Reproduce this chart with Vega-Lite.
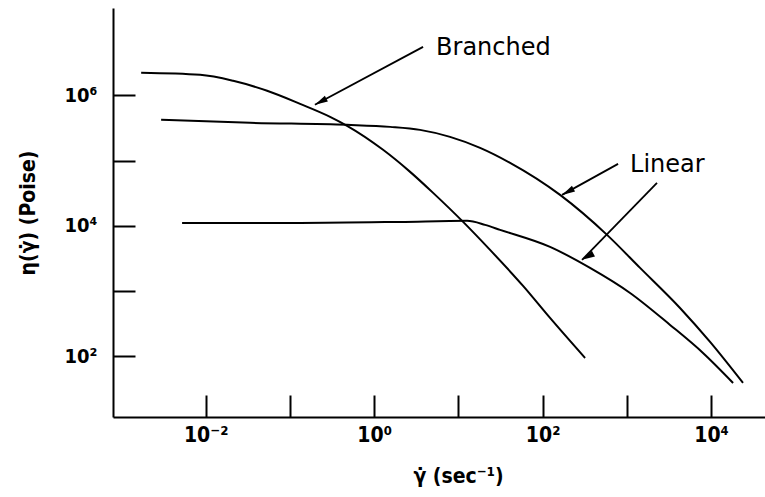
{
  "$schema": "https://vega.github.io/schema/vega-lite/v6.json",
  "width": 652,
  "height": 409,
  "autosize": {"type": "none"},
  "padding": {"left": 113, "top": 8, "right": 0, "bottom": 80},
  "background": "white",
  "config": {"view": {"stroke": null}, "font": "DejaVu Sans Condensed, DejaVu Sans"},
  "datasets": {
    "curves": [
      {"series": "Branched", "x": 0.001714, "y": 2223000},
      {"series": "Branched", "x": 0.00859, "y": 2070000},
      {"series": "Branched", "x": 0.0212, "y": 1675000},
      {"series": "Branched", "x": 0.0536, "y": 1178000},
      {"series": "Branched", "x": 0.1321, "y": 743000},
      {"series": "Branched", "x": 0.2999, "y": 470000},
      {"series": "Branched", "x": 0.4775, "y": 342000},
      {"series": "Branched", "x": 1.276, "y": 146600},
      {"series": "Branched", "x": 2.673, "y": 67300},
      {"series": "Branched", "x": 5.012, "y": 32060},
      {"series": "Branched", "x": 11.38, "y": 11510},
      {"series": "Branched", "x": 23.77, "y": 4285},
      {"series": "Branched", "x": 58.6, "y": 1202},
      {"series": "Branched", "x": 122.5, "y": 388},
      {"series": "Branched", "x": 319.2, "y": 94.4},
      {"series": "Linear high", "x": 0.002958, "y": 422700},
      {"series": "Linear high", "x": 0.03373, "y": 380200},
      {"series": "Linear high", "x": 0.4775, "y": 354000},
      {"series": "Linear high", "x": 1.546, "y": 329600},
      {"series": "Linear high", "x": 3.508, "y": 296500},
      {"series": "Linear high", "x": 7.96, "y": 231700},
      {"series": "Linear high", "x": 18.1, "y": 157100},
      {"series": "Linear high", "x": 41.1, "y": 92500},
      {"series": "Linear high", "x": 161.1, "y": 29850},
      {"series": "Linear high", "x": 582, "y": 7278},
      {"series": "Linear high", "x": 1435, "y": 2270},
      {"series": "Linear high", "x": 4276, "y": 552},
      {"series": "Linear high", "x": 9727, "y": 166.3},
      {"series": "Linear high", "x": 23930, "y": 39.1},
      {"series": "Linear low", "x": 0.005248, "y": 11120},
      {"series": "Linear low", "x": 0.1321, "y": 11120},
      {"series": "Linear low", "x": 2.032, "y": 11510},
      {"series": "Linear low", "x": 12.69, "y": 11940},
      {"series": "Linear low", "x": 20.75, "y": 10360},
      {"series": "Linear low", "x": 31.26, "y": 8690},
      {"series": "Linear low", "x": 122.5, "y": 4764},
      {"series": "Linear low", "x": 365.6, "y": 2270},
      {"series": "Linear low", "x": 1092, "y": 937.6},
      {"series": "Linear low", "x": 3258, "y": 303.4},
      {"series": "Linear low", "x": 8017, "y": 112.7},
      {"series": "Linear low", "x": 18240, "y": 39.1}
    ],
    "arrows": [
      {"arrow": "b", "part": "tail", "x": 3.81, "y": 5560000},
      {"arrow": "b", "part": "tip", "x": 0.198, "y": 718000},
      {"arrow": "l1", "part": "tail", "x": 787, "y": 89300},
      {"arrow": "l1", "part": "tip", "x": 170.2, "y": 29850},
      {"arrow": "l2", "part": "tail", "x": 2280, "y": 45700},
      {"arrow": "l2", "part": "tip", "x": 293.8, "y": 3013}
    ],
    "labels": [
      {"text": "Branched", "x": 5.43, "y": 4200000},
      {"text": "Linear", "x": 1092, "y": 67300}
    ]
  },
  "encoding": {
    "x": {
      "field": "x",
      "type": "quantitative",
      "scale": {"type": "log", "domain": [0.000794, 43650], "nice": false},
      "axis": {
        "values": [0.01, 0.1, 1, 10, 100, 1000, 10000],
        "labelExpr": "datum.value == 0.01 ? '10⁻²' : datum.value == 1 ? '10⁰' : datum.value == 100 ? '10²' : datum.value == 10000 ? '10⁴' : ''",
        "labelOverlap": false,
        "labelFlush": false,
        "grid": false,
        "tickSize": -22,
        "tickWidth": 2,
        "tickColor": "black",
        "domainColor": "black",
        "domainWidth": 2,
        "labelPadding": 29,
        "labelFontSize": 21,
        "labelFontWeight": "bold",
        "labelColor": "black",
        "title": "γ̇ (sec⁻¹)",
        "titleFontSize": 21,
        "titleFontWeight": "bold",
        "titleColor": "black",
        "titlePadding": 20,
        "titleX": 345
      }
    },
    "y": {
      "field": "y",
      "type": "quantitative",
      "scale": {"type": "log", "domain": [11.75, 21900000], "nice": false},
      "axis": {
        "values": [100, 1000, 10000, 100000, 1000000],
        "labelExpr": "datum.value == 100 ? '10²' : datum.value == 10000 ? '10⁴' : datum.value == 1000000 ? '10⁶' : ''",
        "labelOverlap": false,
        "labelFlush": false,
        "grid": false,
        "tickSize": -22,
        "tickWidth": 2,
        "tickColor": "black",
        "domainColor": "black",
        "domainWidth": 2,
        "labelPadding": 38,
        "labelFontSize": 20,
        "labelFontWeight": "bold",
        "labelColor": "black",
        "title": "η(γ̇) (Poise)",
        "titleFontSize": 21,
        "titleFontWeight": "bold",
        "titleColor": "black",
        "titlePadding": 26
      }
    }
  },
  "layer": [
    {
      "data": {"name": "curves"},
      "mark": {"type": "line", "color": "black", "strokeWidth": 2, "interpolate": "monotone"},
      "encoding": {"detail": {"field": "series", "type": "nominal"}}
    },
    {
      "data": {"name": "arrows"},
      "mark": {"type": "line", "color": "black", "strokeWidth": 1.8},
      "encoding": {"detail": {"field": "arrow", "type": "nominal"}}
    },
    {
      "data": {"name": "arrows"},
      "transform": [{"filter": "datum.part == 'tip'"}],
      "mark": {"type": "point", "shape": "M0,0L0.5,2L-0.5,2Z", "filled": true, "color": "black", "opacity": 1, "size": 169},
      "encoding": {
        "angle": {"field": "arrow", "type": "nominal", "scale": {"domain": ["b", "l1", "l2"], "range": [242, 241, 224]}, "legend": null}
      }
    },
    {
      "data": {"name": "labels"},
      "mark": {"type": "text", "align": "left", "baseline": "alphabetic", "font": "DejaVu Sans", "fontSize": 24, "color": "black"},
      "encoding": {"text": {"field": "text", "type": "nominal"}}
    }
  ]
}
